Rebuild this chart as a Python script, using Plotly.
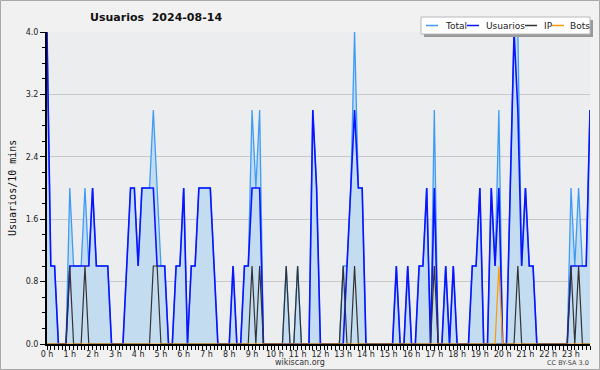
import plotly.graph_objects as go

# 10-minute slots over the day (144 slots)
slots = list(range(144))
hour_labels = [f"{h} h" for h in range(24)]
hour_ticks = [h * 6 for h in range(24)]

usuarios = [
    4, 1, 1, 0, 0, 0, 1, 1, 1, 1, 1, 1,
    2, 1, 1, 1, 1, 0, 0, 0, 0, 1, 2, 2,
    1, 2, 2, 2, 2, 1, 1, 1, 0, 0, 1, 1,
    2, 0, 1, 1, 2, 2, 2, 2, 1, 0, 0, 0,
    0, 1, 0, 0, 1, 1, 2, 2, 2, 0, 0, 0,
    0, 0, 0, 0, 0, 0, 0, 0, 0, 0, 3, 2,
    0, 0, 0, 0, 0, 0, 0, 1, 2, 3, 2, 2,
    0, 0, 0, 0, 0, 0, 0, 0, 1, 0, 0, 1,
    0, 0, 1, 1, 2, 0, 2, 0, 0, 1, 0, 1,
    0, 0, 0, 0, 1, 1, 2, 0, 0, 2, 1, 2,
    0, 0, 2, 4, 3, 1, 2, 1, 1, 0, 0, 0,
    0, 0, 0, 0, 0, 0, 1, 1, 1, 1, 1, 3,
]

ip = [
    0, 0, 0, 0, 0, 0, 1, 0, 0, 0, 1, 0,
    0, 0, 0, 0, 0, 0, 0, 0, 0, 0, 0, 0,
    0, 0, 0, 0, 1, 1, 0, 0, 0, 0, 0, 0,
    0, 0, 0, 0, 0, 0, 0, 0, 0, 0, 0, 0,
    0, 0, 0, 0, 0, 0, 1, 0, 1, 0, 0, 0,
    0, 0, 0, 1, 0, 0, 1, 0, 0, 0, 0, 0,
    0, 0, 0, 0, 0, 0, 1, 0, 0, 1, 0, 0,
    0, 0, 0, 0, 0, 0, 0, 0, 0, 0, 0, 0,
    0, 0, 0, 0, 0, 0, 1, 0, 0, 0, 0, 0,
    0, 0, 0, 0, 0, 0, 0, 0, 0, 0, 0, 0,
    0, 0, 0, 0, 1, 0, 0, 0, 0, 0, 0, 0,
    0, 0, 0, 0, 0, 0, 1, 0, 1, 0, 0, 0,
]

bots = [
    0, 0, 0, 0, 0, 0, 0, 0, 0, 0, 0, 0,
    0, 0, 0, 0, 0, 0, 0, 0, 0, 0, 0, 0,
    0, 0, 0, 0, 0, 0, 0, 0, 0, 0, 0, 0,
    0, 0, 0, 0, 0, 0, 0, 0, 0, 0, 0, 0,
    0, 0, 0, 0, 0, 0, 0, 0, 0, 0, 0, 0,
    0, 0, 0, 0, 0, 0, 0, 0, 0, 0, 0, 0,
    0, 0, 0, 0, 0, 0, 0, 0, 0, 0, 0, 0,
    0, 0, 0, 0, 0, 0, 0, 0, 0, 0, 0, 0,
    0, 0, 0, 0, 0, 0, 0, 0, 0, 0, 0, 0,
    0, 0, 0, 0, 0, 0, 0, 0, 0, 0, 0, 1,
    0, 0, 0, 0, 0, 0, 0, 0, 0, 0, 0, 0,
    0, 0, 0, 0, 0, 0, 0, 0, 0, 0, 0, 0,
]

total = [
    4, 1, 1, 0, 0, 0, 2, 1, 1, 1, 2, 1,
    2, 1, 1, 1, 1, 0, 0, 0, 0, 1, 2, 2,
    1, 2, 2, 2, 3, 2, 1, 1, 0, 0, 1, 1,
    2, 0, 1, 1, 2, 2, 2, 2, 1, 0, 0, 0,
    0, 1, 0, 0, 1, 1, 3, 2, 3, 0, 0, 0,
    0, 0, 0, 1, 0, 0, 1, 0, 0, 0, 3, 2,
    0, 0, 0, 0, 0, 0, 1, 1, 2, 4, 2, 2,
    0, 0, 0, 0, 0, 0, 0, 0, 1, 0, 0, 1,
    0, 0, 1, 1, 2, 0, 3, 0, 0, 1, 0, 1,
    0, 0, 0, 0, 1, 1, 2, 0, 0, 2, 1, 3,
    0, 0, 2, 4, 4, 1, 2, 1, 1, 0, 0, 0,
    0, 0, 0, 0, 0, 0, 2, 1, 2, 1, 1, 3,
]

y_ticks = [0.0, 0.8, 1.6, 2.4, 3.2, 4.0]

C_TOTAL = "#3F9CF5"
C_FILL = "#C4DCF0"
C_USU = "#0A14FF"
C_IP = "#333333"
C_BOTS = "#FF9A00"

W, H = 600, 370
ML, MR, MT, MB = 47, 10, 32, 26
PW, PH = W - ML - MR, H - MT - MB


def px(x):
    return (x - ML) / PW


def py(y):
    return (H - MB - y) / PH


fig = go.Figure()
fig.add_trace(go.Scatter(x=slots, y=total, mode="lines", name="Total",
                         line=dict(color=C_TOTAL, width=1.3),
                         fill="tozeroy", fillcolor=C_FILL))
fig.add_trace(go.Scatter(x=slots, y=usuarios, mode="lines", name="Usuarios",
                         line=dict(color=C_USU, width=1.6)))
fig.add_trace(go.Scatter(x=slots, y=ip, mode="lines", name="IP",
                         line=dict(color=C_IP, width=1.2)))
fig.add_trace(go.Scatter(x=slots, y=bots, mode="lines", name="Bots",
                         line=dict(color=C_BOTS, width=1.2)))

shapes = []
# outer border
shapes.append(dict(type="rect", xref="paper", yref="paper",
                   x0=px(0.5), x1=px(599.5), y0=py(369.5), y1=py(0.5),
                   line=dict(color="#A8A8A8", width=1), fillcolor="rgba(0,0,0,0)",
                   layer="above"))
# legend shadow and box
shapes.append(dict(type="rect", xref="paper", yref="paper",
                   x0=px(424), x1=px(593), y0=py(37), y1=py(20),
                   line=dict(width=0), fillcolor="#9A9A9A", layer="above"))
shapes.append(dict(type="rect", xref="paper", yref="paper",
                   x0=px(421), x1=px(590), y0=py(34), y1=py(17),
                   line=dict(color="#B8B8B8", width=1), fillcolor="#FFFFFF", layer="above"))
legend_items = [("Total", C_TOTAL, 426, 443), ("Usuarios", C_USU, 467, 484),
                ("IP", C_IP, 525, 542), ("Bots", C_BOTS, 552, 568)]
annotations = []
for name, col, lx, tx in legend_items:
    shapes.append(dict(type="line", xref="paper", yref="paper",
                       x0=px(lx), x1=px(lx + 12), y0=py(25.5), y1=py(25.5),
                       line=dict(color=col, width=1.5), layer="above"))
    annotations.append(dict(text=name, xref="paper", yref="paper",
                            x=px(tx), y=py(25.5), xanchor="left", yanchor="middle",
                            showarrow=False,
                            font=dict(family="DejaVu Sans", size=9, color="#222222")))

annotations.append(dict(text="Usuarios\u00a0\u00a02024-08-14", xref="paper", yref="paper",
                        x=px(88), y=py(18), xanchor="left", yanchor="middle",
                        showarrow=False,
                        font=dict(family="DejaVu Sans", size=11, color="#111111", weight="bold")))
annotations.append(dict(text="Usuarios/10 mins", xref="paper", yref="paper",
                        x=px(12), y=py(188), xanchor="center", yanchor="middle",
                        textangle=-90, showarrow=False,
                        font=dict(family="DejaVu Sans Mono", size=10, color="#111111")))
annotations.append(dict(text="wikiscan.org", xref="paper", yref="paper",
                        x=px(300), y=py(362), xanchor="center", yanchor="middle",
                        showarrow=False,
                        font=dict(family="DejaVu Sans", size=8, color="#333333")))
annotations.append(dict(text="CC BY-SA 3.0", xref="paper", yref="paper",
                        x=px(591), y=py(363), xanchor="right", yanchor="middle",
                        showarrow=False,
                        font=dict(family="DejaVu Sans", size=6.5, color="#444444")))

fig.update_layout(
    width=W, height=H, autosize=False,
    margin=dict(l=ML, r=MR, t=MT, b=MB, pad=0),
    paper_bgcolor="#F1F1F1", plot_bgcolor="#ECEDEF",
    showlegend=False,
    shapes=shapes, annotations=annotations,
    font=dict(family="DejaVu Sans", size=8, color="#222222"),
)
fig.update_xaxes(range=[0, 143], tickvals=hour_ticks, ticktext=hour_labels,
                 showgrid=False, zeroline=False,
                 showline=True, linecolor="#000000", linewidth=2,
                 ticks="outside", ticklen=4, tickwidth=1.3, tickcolor="#000000",
                 ticklabelstandoff=-3,
                 tickfont=dict(family="DejaVu Sans", size=8, color="#222222"),
                 minor=dict(ticks="outside", dtick=1, tick0=0, ticklen=4,
                            tickwidth=1.3, tickcolor="#000000", showgrid=False))
fig.update_yaxes(range=[0, 4], tickvals=y_ticks, ticktext=[f"{v:.1f}" for v in y_ticks],
                 showgrid=True, gridcolor="#C9C9C9", gridwidth=1, zeroline=False,
                 showline=True, linecolor="#000000", linewidth=2,
                 ticks="outside", ticklen=5, tickwidth=1.3, tickcolor="#000000",
                 tickfont=dict(family="DejaVu Sans", size=8, color="#222222"),
                 minor=dict(ticks="outside", dtick=0.2, tick0=0, ticklen=3,
                            tickwidth=1.2, tickcolor="#000000", showgrid=False))

fig.write_html("out.html", config={"displayModeBar": False},
               post_script="document.body.style.margin='0';document.body.style.padding='0';")
